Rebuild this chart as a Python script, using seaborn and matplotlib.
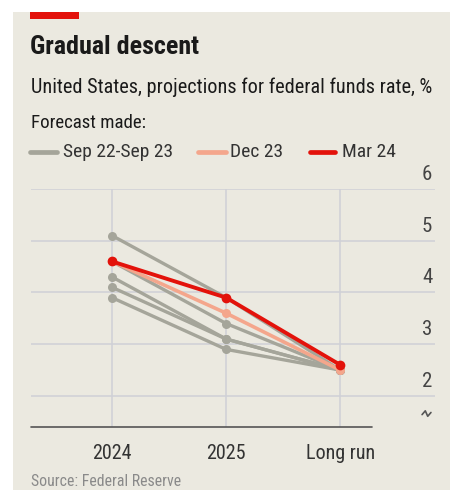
import numpy as np
import pandas as pd
import matplotlib
matplotlib.use("Agg")
import matplotlib.pyplot as plt
from matplotlib.patches import Rectangle
from matplotlib.lines import Line2D
from matplotlib import font_manager as fm
import seaborn as sns

# data: Fed projections, median, %
horizons = ["2024", "2025", "Long run"]
sep22 = [3.9, 2.9, 2.5]
dec22 = [4.1, 3.1, 2.5]
mar23 = [4.3, 3.1, 2.5]
jun23 = [4.6, 3.4, 2.5]
sep23 = [5.1, 3.9, 2.5]
dec23 = [4.6, 3.6, 2.5]
mar24 = [4.6, 3.9, 2.6]
yticks = [2, 3, 4, 5, 6]
legend_labels = ["Sep 22-Sep 23", "Dec 23", "Mar 24"]

grey_runs = {"Sep 22": sep22, "Dec 22": dec22, "Mar 23": mar23,
             "Jun 23": jun23, "Sep 23": sep23}

bg = "#ebe9e0"
grey = "#a5a59a"
salmon = "#f4a68c"
red = "#e3120b"
gridc = "#cfd0d6"

# pick a condensed sans if there is one
have = {f.name for f in fm.fontManager.ttflist}
cands = ["Roboto Condensed", "Fira Sans Condensed", "IBM Plex Sans Condensed",
         "Archivo Narrow", "PT Sans Narrow", "Asap Condensed", "Barlow Condensed",
         "Encode Sans Condensed", "Liberation Sans Narrow", "Roboto"]
font = next((c for c in cands if c in have), "DejaVu Sans")

sns.set_style("white")
plt.rcParams["font.family"] = [font, "DejaVu Sans"]

W, H = 458, 492
fig = plt.figure(figsize=(W / 100, H / 100), dpi=100, facecolor="white")
fig.patches.append(Rectangle((13 / W, 1 - 490 / H), (450 - 13) / W, (490 - 12) / H,
                             transform=fig.transFigure, facecolor=bg, edgecolor="none", zorder=-10))
fig.patches.append(Rectangle((30 / W, 1 - 19 / H), 49 / W, 7 / H,
                             transform=fig.transFigure, facecolor=red, edgecolor="none", zorder=-5))

ax = fig.add_axes([31 / W, 1 - 427 / H, (435 - 31) / W, (427 - 189) / H])
ax.set_facecolor("none")

rows = []
for name, vals in grey_runs.items():
    for h, v in zip(horizons, vals):
        rows.append({"horizon": h, "rate": v, "run": name})
df_grey = pd.DataFrame(rows)

for name in grey_runs:
    sub = df_grey[df_grey["run"] == name]
    sns.lineplot(data=sub, x="horizon", y="rate", ax=ax, color=grey, lw=2.4,
                 marker="o", markersize=6.5, markeredgewidth=0, sort=False, zorder=3)
sns.lineplot(x=horizons, y=dec23, ax=ax, color=salmon, lw=2.6, marker="o",
             markersize=6.5, markeredgewidth=0, sort=False, zorder=4)
sns.lineplot(x=horizons, y=mar24, ax=ax, color=red, lw=2.8, marker="o",
             markersize=7, markeredgewidth=0, sort=False, zorder=5)

ax.set_xlim(-0.71, 2.83)
ax.set_ylim(1.4, 6.0)
for s in ax.spines.values():
    s.set_visible(False)
ax.set_xlabel("")
ax.set_ylabel("")
ax.set_yticks([])
ax.set_xticks(range(len(horizons)))
ax.set_xticklabels(horizons, fontsize=14.5, color="#333333")
ax.tick_params(axis="x", length=0, pad=12)

for t in yticks:
    ax.axhline(t, color=gridc, lw=1.1, zorder=1)
    ax.text(0.993, t + 0.1, str(t), transform=ax.get_yaxis_transform(),
            ha="right", va="bottom", fontsize=15, color="#444444")
for i in range(len(horizons)):
    ax.axvline(i, color=gridc, lw=1.1, zorder=1)
# baseline
ax.plot([-0.71, 2.28], [1.4, 1.4], color="#555555", lw=1.2, clip_on=False, zorder=2)
# axis break mark
bx = np.array([0.968, 0.976, 0.982, 0.99])
by = np.array([0.052, 0.068, 0.045, 0.061])
ax.plot(bx, by, transform=ax.transAxes, color="#555555", lw=1.2, clip_on=False)

# titles
fig.text(30 / W, 1 - 47 / H, "Gradual descent", fontsize=18.7, fontweight="bold",
         color="#1a1a1a", va="center")
fig.text(31 / W, 1 - 87 / H, "United States, projections for federal funds rate, %",
         fontsize=14.6, color="#1a1a1a", va="center")
fig.text(31 / W, 1 - 123 / H, "Forecast made:", fontsize=13.6, color="#1a1a1a", va="center")

# legend, drawn by hand to match the spacing
leg_colors = [grey, salmon, red]
leg_x = [(30, 57, 63), (198, 226, 230), (310, 335, 342)]
for (x0, x1, xt), c, lab in zip(leg_x, leg_colors, legend_labels):
    fig.add_artist(Line2D([x0 / W, x1 / W], [1 - 152 / H, 1 - 152 / H], color=c,
                          lw=3.4, transform=fig.transFigure))
    fig.text(xt / W, 1 - 152 / H, lab, fontsize=14, color="#333333", va="center")

fig.text(31 / W, 1 - 481 / H, "Source: Federal Reserve", fontsize=11.4,
         color="#8a8a8a", va="center")

fig.savefig("out.png", dpi=100, facecolor="white")
